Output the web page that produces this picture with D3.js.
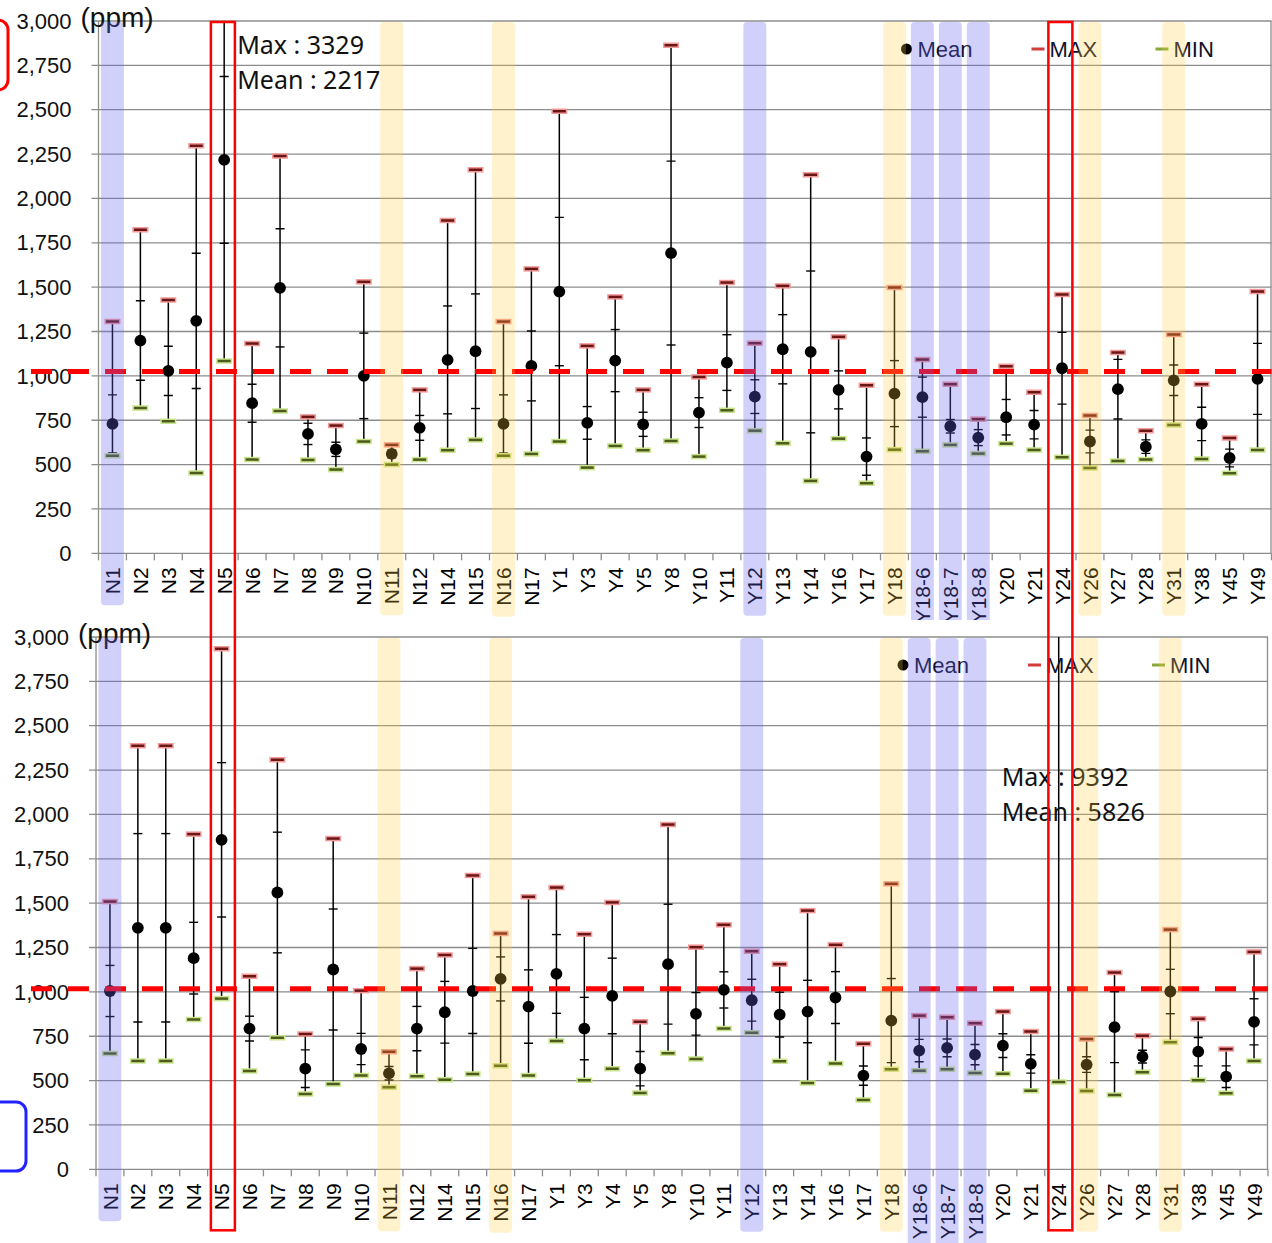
<!DOCTYPE html>
<html>
<head>
<meta charset="utf-8">
<script src="https://cdn.jsdelivr.net/npm/d3@7/dist/d3.min.js"></script>
<style>
  body { margin: 0; background: #fff; }
  svg { display: block; }
</style>
</head>
<body>
<svg id="chart" width="1272" height="1243"></svg>
<script>
// Sampling points
var categories = ["N1","N2","N3","N4","N5","N6","N7","N8","N9","N10","N11","N12","N14","N15","N16","N17",
  "Y1","Y3","Y4","Y5","Y8","Y10","Y11","Y12","Y13","Y14","Y16","Y17","Y18","Y18-6","Y18-7","Y18-8",
  "Y20","Y21","Y24","Y26","Y27","Y28","Y31","Y38","Y45","Y49"];

// Upper chart (ppm)
var topMean = [729,1199,1028,1310,2217,846,1496,673,586,1000,560,707,1090,1139,729,1056,
  1475,735,1086,727,1692,793,1075,883,1150,1135,921,545,900,880,716,652,
  767,725,1043,630,925,601,975,729,537,983];
var topSd = [164,224,139,381,470,107,333,60,40,241,22,70,304,323,164,197,
  418,92,175,68,518,84,157,95,195,456,107,105,186,113,38,45,
  100,80,202,64,168,38,86,94,50,200];
var topMax = [1306,1823,1427,2297,3329,1182,2239,769,720,1530,611,921,1876,2162,1306,1603,
  2492,1169,1445,921,2863,994,1526,1184,1507,2133,1220,947,1498,1092,953,756,
  1054,908,1458,776,1131,691,1233,953,650,1475];
var topMin = [550,819,744,453,1084,528,802,526,472,630,500,528,581,639,550,560,
  630,483,605,581,633,545,806,691,620,408,646,395,584,575,611,562,
  618,582,541,481,520,528,723,532,451,582];

// Lower chart (ppm)
var botMean = [1005,1361,1361,1190,1857,793,1560,567,1126,678,541,793,885,1005,1073,917,
  1101,793,977,567,1156,876,1011,953,872,889,968,528,838,669,684,646,
  697,594,5826,590,801,635,1002,663,522,831];
var botSd = [144,531,531,202,435,70,340,106,341,88,38,125,174,240,124,207,
  222,176,213,97,338,120,102,118,126,176,146,54,237,63,50,57,
  67,52,null,44,200,36,125,80,61,130];
var botMax = [1509,2387,2387,1889,2934,1088,2308,763,1864,1007,663,1131,1208,1656,1329,1536,
  1588,1325,1504,832,1943,1252,1378,1229,1156,1458,1265,707,1609,866,857,823,
  889,776,9392,735,1109,752,1351,849,678,1225];
var botMin = [652,611,611,844,962,554,742,425,481,528,462,524,504,537,584,528,
  723,502,567,430,654,622,793,770,609,487,596,391,564,556,564,543,
  539,443,492,441,419,547,716,502,429,611];

var yTicks = [0,250,500,750,1000,1250,1500,1750,2000,2250,2500,2750,3000];
var blueCats = ["N1","Y12","Y18-6","Y18-7","Y18-8"];
var yellowCats = ["N11","N16","Y18","Y26","Y31"];
var boxedCats = ["N5","Y24"];
var guideTop = 1025, guideBottom = 1017;
var noteTop = "N5", noteBottom = "Y24";

var svg = d3.select("#chart");
svg.append("rect").attr("width", 1272).attr("height", 1243).attr("fill", "#fff");

var panels = [
  { mean: topMean, sd: topSd, max: topMax, min: topMin, guide: guideTop, note: noteTop,
    left: 98.5, right: 1271.5, top: 21, bottom: 553.3, noteDx: -1, noteDy: 33 },
  { mean: botMean, sd: botSd, max: botMax, min: botMin, guide: guideBottom, note: noteBottom,
    left: 96, right: 1268, top: 637, bottom: 1169.3, noteDx: -71, noteDy: 149 }
];

var tickFont = "'Liberation Sans', Arial, sans-serif";
var scales = [];

panels.forEach(function(p, pi) {
  var g = svg.append("g");

  // the lower chart sits on top of the upper one and hides its overflow
  if (pi === 1) {
    g.append("rect").attr("x", 0).attr("y", 620).attr("width", 1272).attr("height", 623).attr("fill", "#fff");
  }

  var x = d3.scaleBand().domain(categories).range([p.left, p.right]).padding(0);
  var y = d3.scaleLinear().domain([0, 3000]).range([p.bottom, p.top]);
  var bw = x.bandwidth();
  scales.push({ x: x, y: y });

  // gridlines
  g.selectAll(null).data(yTicks).enter().append("line")
    .attr("x1", p.left - 7).attr("x2", p.right)
    .attr("y1", function(d) { return y(d); }).attr("y2", function(d) { return y(d); })
    .attr("stroke", "#8c8c8c").attr("stroke-width", 1.3);

  g.append("line").attr("x1", p.left).attr("x2", p.left).attr("y1", p.top).attr("y2", p.bottom)
    .attr("stroke", "#8c8c8c").attr("stroke-width", 1.3);
  g.append("line").attr("x1", p.right - 0.5).attr("x2", p.right - 0.5).attr("y1", p.top).attr("y2", p.bottom)
    .attr("stroke", "#8c8c8c").attr("stroke-width", 1.3);

  // x ticks at category boundaries
  g.selectAll(null).data(d3.range(categories.length + 1)).enter().append("line")
    .attr("x1", function(i) { return p.left + i * bw; })
    .attr("x2", function(i) { return p.left + i * bw; })
    .attr("y1", p.bottom).attr("y2", p.bottom + 7)
    .attr("stroke", "#8c8c8c").attr("stroke-width", 1.3);

  // y tick labels
  g.selectAll(null).data(yTicks).enter().append("text")
    .attr("x", p.left - 27).attr("y", function(d) { return y(d); })
    .attr("dy", "0.35em").attr("text-anchor", "end")
    .style("font-family", tickFont).style("font-size", "22px").attr("fill", "#111")
    .text(function(d) { return d3.format(",")(d); });

  g.append("text").attr("x", p.left - 18).attr("y", p.top + 6)
    .style("font-family", tickFont).style("font-size", "28px").attr("fill", "#111")
    .text("(ppm)");

  // x labels
  var labels = g.selectAll(null).data(categories).enter().append("text")
    .attr("transform", function(d) { return "translate(" + (x(d) + bw / 2) + "," + (p.bottom + 14) + ") rotate(-90)"; })
    .attr("dy", "0.36em").attr("text-anchor", "end")
    .style("font-family", tickFont).style("font-size", "21px").attr("fill", "#000")
    .text(function(d) { return d; });

  // error bars
  var clipId = "clip" + pi;
  svg.append("clipPath").attr("id", clipId).append("rect")
    .attr("x", p.left).attr("y", p.top).attr("width", p.right - p.left).attr("height", p.bottom - p.top);
  var marks = g.append("g").attr("clip-path", "url(#" + clipId + ")");

  var rows = categories.map(function(c, i) {
    return { cat: c, mean: p.mean[i], sd: p.sd[i], max: p.max[i], min: p.min[i] };
  });

  marks.selectAll(null).data(rows).enter().append("line")
    .attr("x1", function(d) { return x(d.cat) + bw / 2; })
    .attr("x2", function(d) { return x(d.cat) + bw / 2; })
    .attr("y1", function(d) { return y(d.min); })
    .attr("y2", function(d) { return y(d.max); })
    .attr("stroke", "#000").attr("stroke-width", 1.5);

  var sdTicks = [];
  rows.forEach(function(d) {
    if (d.sd !== null) {
      sdTicks.push({ cat: d.cat, v: d.mean + d.sd });
      sdTicks.push({ cat: d.cat, v: d.mean - d.sd });
    }
  });
  marks.selectAll(null).data(sdTicks).enter().append("line")
    .attr("x1", function(d) { return x(d.cat) + bw / 2 - 4.5; })
    .attr("x2", function(d) { return x(d.cat) + bw / 2 + 4.5; })
    .attr("y1", function(d) { return y(d.v); })
    .attr("y2", function(d) { return y(d.v); })
    .attr("stroke", "#000").attr("stroke-width", 1.4);

  function caps(key, halo, core) {
    [[halo, 5.5, 8], [core, 2.5, 6.5]].forEach(function(s) {
      marks.selectAll(null).data(rows).enter().append("line")
        .attr("x1", function(d) { return x(d.cat) + bw / 2 - s[2]; })
        .attr("x2", function(d) { return x(d.cat) + bw / 2 + s[2]; })
        .attr("y1", function(d) { return y(d[key]); })
        .attr("y2", function(d) { return y(d[key]); })
        .attr("stroke", s[0]).attr("stroke-width", s[1]);
    });
  }
  caps("max", "#f29a9a", "#6a1616");
  caps("min", "#c9e68e", "#4d5a1c");

  marks.selectAll(null).data(rows).enter().append("circle")
    .attr("cx", function(d) { return x(d.cat) + bw / 2; })
    .attr("cy", function(d) { return y(d.mean); })
    .attr("r", 5.9).attr("fill", "#000");

  // red dashed reference line
  g.append("line").attr("x1", 31).attr("x2", p.right)
    .attr("y1", y(p.guide)).attr("y2", y(p.guide))
    .attr("stroke", "#ff0000").attr("stroke-width", 5).attr("stroke-dasharray", "21,16");

  // legend
  var ly = p.top + 28;
  g.append("circle").attr("cx", p.right - 365).attr("cy", ly).attr("r", 5.5).attr("fill", "#000");
  g.append("text").attr("x", p.right - 354).attr("y", ly).attr("dy", "0.36em")
    .style("font-family", tickFont).style("font-size", "22px").attr("fill", "#10102a").text("Mean");
  g.append("line").attr("x1", p.right - 240).attr("x2", p.right - 227).attr("y1", ly).attr("y2", ly)
    .attr("stroke", "#d23c3c").attr("stroke-width", 3);
  g.append("text").attr("x", p.right - 222).attr("y", ly).attr("dy", "0.36em")
    .style("font-family", tickFont).style("font-size", "22px").attr("fill", "#10102a").text("MAX");
  g.append("line").attr("x1", p.right - 116).attr("x2", p.right - 103).attr("y1", ly).attr("y2", ly)
    .attr("stroke", "#8aa83a").attr("stroke-width", 3);
  g.append("text").attr("x", p.right - 98).attr("y", ly).attr("dy", "0.36em")
    .style("font-family", tickFont).style("font-size", "22px").attr("fill", "#10102a").text("MIN");

  // note for the off-scale point
  var ni = categories.indexOf(p.note);
  var nx = x(p.note) + bw + p.noteDx;
  var note = g.append("text").style("font-family", "'Noto Sans', 'Open Sans', sans-serif")
    .style("font-size", "25px").attr("fill", "#111");
  note.append("tspan").attr("x", nx).attr("y", p.top + p.noteDy).text("Max : " + p.max[ni]);
  note.append("tspan").attr("x", nx).attr("y", p.top + p.noteDy + 35).text("Mean : " + p.mean[ni]);

  // highlight bands (translucent, over everything else)
  function bands(list, fill) {
    g.selectAll(null).data(list).enter().append("rect")
      .attr("x", function(d) { return x(d) + 2.5; })
      .attr("y", p.top + 1)
      .attr("width", bw - 5)
      .attr("height", function(d) {
        var node = labels.filter(function(c) { return c === d; }).node();
        var len = node.getComputedTextLength();
        return (p.bottom + 14 + len + 11) - (p.top + 1);
      })
      .attr("rx", 4)
      .attr("fill", fill);
  }
  bands(blueCats, "rgba(100,100,240,0.30)");
  bands(yellowCats, "rgba(255,205,60,0.26)");
});

// red boxes spanning both charts
var s0 = scales[0], s1 = scales[1];
svg.selectAll(null).data(boxedCats).enter().append("rect")
  .attr("x", function(d) {
    var c = (s0.x(d) + s0.x.bandwidth() / 2 + s1.x(d) + s1.x.bandwidth() / 2) / 2;
    return c - 12;
  })
  .attr("y", s0.y(3000) + 1)
  .attr("width", 24)
  .attr("height", s1.y(0) + 60 - s0.y(3000))
  .attr("fill", "none").attr("stroke", "#ff0000").attr("stroke-width", 2.5);

// rounded callouts on the left edge
svg.append("rect").attr("x", -40).attr("y", 20).attr("width", 48).attr("height", 70).attr("rx", 10)
  .attr("fill", "none").attr("stroke", "#ff0000").attr("stroke-width", 3);
svg.append("rect").attr("x", -30).attr("y", 1102).attr("width", 56).attr("height", 69).attr("rx", 10)
  .attr("fill", "none").attr("stroke", "#2222ff").attr("stroke-width", 3);
</script>
</body>
</html>
